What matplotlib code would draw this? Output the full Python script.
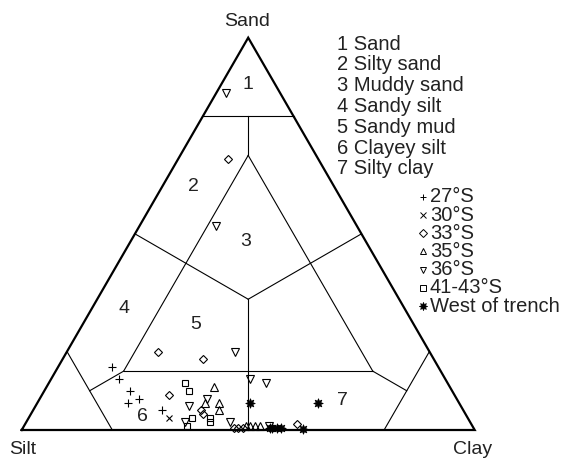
import numpy as np
import matplotlib
matplotlib.use('Agg')
import matplotlib.pyplot as plt

plt.rcParams['font.family'] = ['Liberation Sans', 'DejaVu Sans']

# sample compositions, percent sand / percent clay (silt = rest)
sand_27 = [16, 13, 10, 7, 8, 5]
clay_27 = [12, 15, 19, 20, 22, 28.5]
sand_30 = [3]
clay_30 = [31]
sand_33 = [69, 20, 18, 9, 5, 4, 0.6, 0.6, 0.6, 1.5]
clay_33 = [11, 20, 31, 28, 37, 38, 46.5, 47.5, 48.5, 60]
sand_35 = [11, 7, 7, 5, 1, 1, 1, 1]
clay_35 = [37, 37, 40, 41, 49, 50, 51, 52]
sand_36 = [86, 52, 20, 13, 12, 8, 6, 2, 2, 1]
clay_36 = [2, 17, 37, 44, 48, 37, 34, 35, 45, 54]
sand_41 = [12, 10, 3, 3, 2, 1]
clay_41 = [30, 32, 36, 40, 40.5, 36]
sand_west = [7, 7, 0.5, 0.5, 0.5, 0.5, 0.3]
clay_west = [47, 62, 54.5, 55, 56, 57, 62]

class_names = ['1 Sand', '2 Silty sand', '3 Muddy sand', '4 Sandy silt',
               '5 Sandy mud', '6 Clayey silt', '7 Silty clay']
class_ids = ['1', '2', '3', '4', '5', '6', '7']
class_sand = [88, 62, 48, 31, 27, 3.4, 7.6]
class_clay = [6, 7, 25.5, 7, 25, 25, 67]

groups = ['27°S', '30°S', '33°S', '35°S', '36°S', '41-43°S', 'West of trench']


def tern(sand, clay):
    s = np.asarray(sand, float) / 100
    c = np.asarray(clay, float) / 100
    return c + s / 2, s * np.sqrt(3) / 2


fig = plt.figure(figsize=(5.67, 4.62), dpi=100)
ax = fig.add_axes([0, 0, 1, 1])
ax.axis('off')
ax.set_xlim(-21.7 / 453, (567 - 21.7) / 453)
ax.set_ylim(-(462 - 430) / 453, 430 / 453)

# outer triangle
x, y = tern([0, 100, 0, 0], [0, 0, 100, 0])
ax.plot(x, y, color='black', lw=1.6, solid_joinstyle='miter')

# class boundaries (sand, clay)
segs = [
    ((80, 0), (80, 20)),
    ((20, 0), (0, 20)),
    ((20, 80), (0, 80)),
    ((80, 10), (70, 15)),
    ((100 / 3, 100 / 3), (0, 50)),
    ((70, 15), (15, 15)),
    ((70, 15), (15, 70)),
    ((15, 15), (15, 70)),
    ((50, 0), (100 / 3, 100 / 3)),
    ((50, 50), (100 / 3, 100 / 3)),
    ((15, 70), (10, 80)),
    ((15, 15), (10, 10)),
]
for a, b in segs:
    x, y = tern([a[0], b[0]], [a[1], b[1]])
    ax.plot(x, y, color='black', lw=0.8)

# samples
mk = dict(ls='none', color='black', mfc='none', mew=0.8, clip_on=False)
styles = [('+', 6), ('x', 5), ('D', 4.5), ('^', 5.5), ('v', 5.5), ('s', 5), ((8, 1, 0), 7)]
data = [(sand_27, clay_27), (sand_30, clay_30), (sand_33, clay_33), (sand_35, clay_35),
        (sand_36, clay_36), (sand_41, clay_41), (sand_west, clay_west)]
for (m, ms), (s, c) in zip(styles, data):
    x, y = tern(s, c)
    if m == styles[-1][0]:
        ax.plot(x, y, marker=m, ms=ms, ls='none', color='black', mew=0.5, clip_on=False)
    else:
        ax.plot(x, y, marker=m, ms=ms, **mk)

# class numbers
for t, s, c in zip(class_ids, class_sand, class_clay):
    x, y = tern(s, c)
    ax.text(x, y, t, fontsize=14, ha='center', va='center', color='#222222')

# corner labels
ax.text(0.497, 0.9007, 'Sand', fontsize=14, ha='center', va='center', color='#222222')
ax.text(0.003, -0.042, 'Silt', fontsize=14, ha='center', va='center', color='#222222')
ax.text(0.996, -0.044, 'Clay', fontsize=14, ha='center', va='center', color='#222222')

# class list
for i, name in enumerate(class_names):
    fig.text(336.5 / 567, 1 - (44 + 20.8 * i) / 462, name, fontsize=14.5,
             ha='left', va='center', color='#222222')

# symbol legend
for i, (g, (m, ms)) in enumerate(zip(groups, styles)):
    yy = 1 - (196.8 + 18.2 * i) / 462
    if i == len(groups) - 1:
        ax.plot([423 / 567], [yy], marker=m, ms=6, color='black', mew=0.5,
                transform=fig.transFigure, clip_on=False)
    else:
        ax.plot([423 / 567], [yy], marker=m, ms=ms * 0.8, ls='none', color='black',
                mfc='none', mew=0.7, transform=fig.transFigure, clip_on=False)
    fig.text(430 / 567, yy, g, fontsize=14.5, ha='left', va='center', color='#222222')

fig.savefig('out.png', dpi=100)
